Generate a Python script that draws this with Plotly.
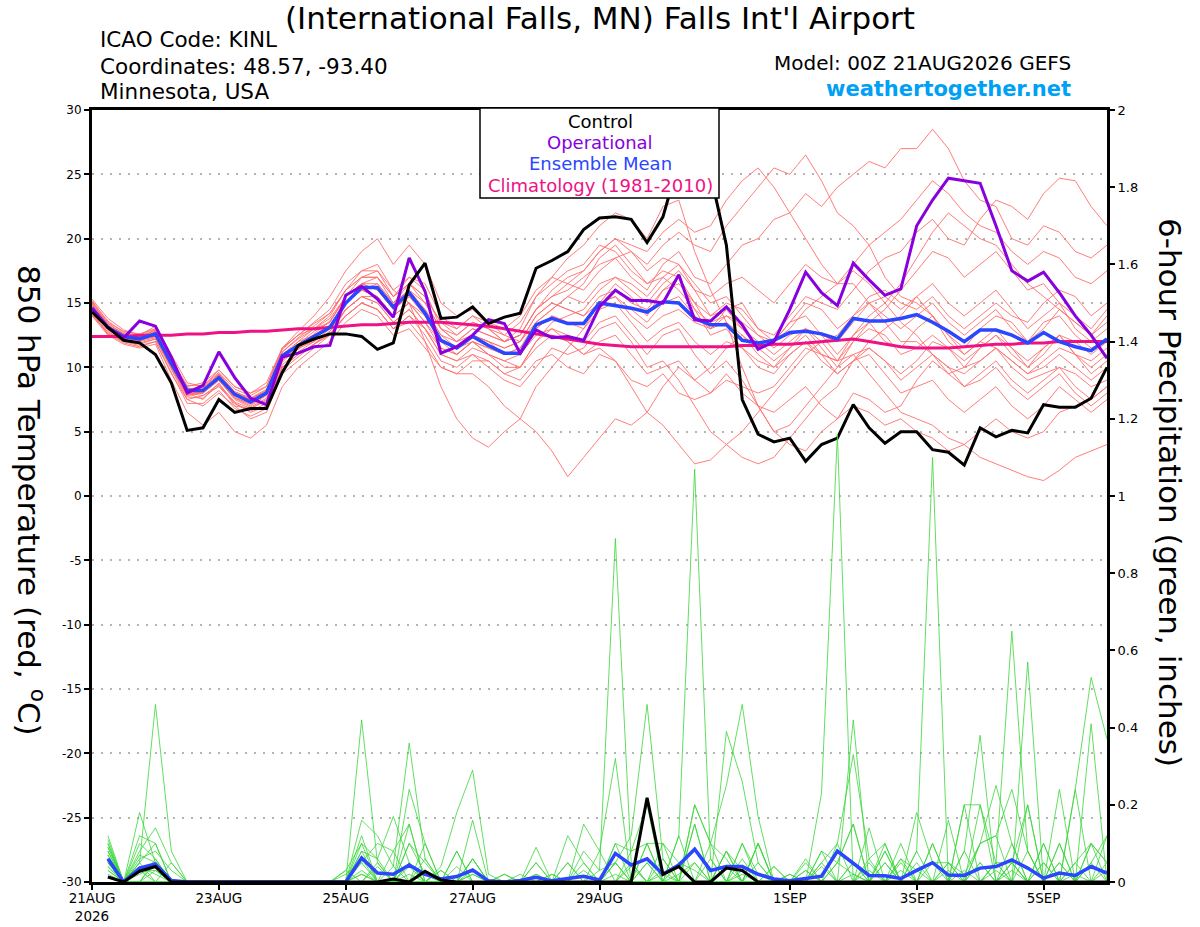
import plotly.graph_objects as go

# forecast hours, 6-hourly from 00Z 21AUG2026
fhours = list(range(0, 385, 6))
precip_hours = fhours[1:]

tick_hours = [0, 48, 96, 144, 192, 264, 312, 360]
tick_labels = ['21AUG<br>2026', '23AUG', '25AUG', '27AUG', '29AUG', '1SEP', '3SEP', '5SEP']
temp_ticks = [30, 25, 20, 15, 10, 5, 0, -5, -10, -15, -20, -25, -30]
temp_tick_labels = ['30', '25', '20', '15', '10', '5', '0', '-5', '-10', '-15', '-20', '-25', '-30']

# 850 hPa temperature (C)
control_t = [14.3, 13.1, 12.1, 11.9, 11.0, 8.8, 5.1, 5.3, 7.5, 6.5, 6.8, 6.8, 9.6, 11.7, 12.2, 12.6,
             12.6, 12.4, 11.4, 11.9, 16.4, 18.1, 13.8, 13.9, 14.7, 13.4, 13.9, 14.2, 17.7, 18.3, 19.0, 20.7,
             21.6, 21.7, 21.5, 19.7, 21.7, 26.0, 27.5, 25.0, 19.5, 7.5, 4.8, 4.2, 4.5, 2.7, 4.0, 4.5,
             7.1, 5.3, 4.1, 5.0, 5.0, 3.6, 3.4, 2.4, 5.3, 4.6, 5.1, 4.9, 7.1, 6.9, 6.9, 7.6, 10.0]
oper_t = [14.6, 13.1, 12.3, 13.6, 13.2, 10.8, 8.0, 8.6, 11.2, 9.2, 7.6, 7.1, 10.8, 11.1, 11.6, 11.7,
          15.6, 16.3, 15.3, 13.9, 18.5, 15.9, 11.1, 11.6, 12.5, 13.7, 13.4, 11.1, 12.9, 12.3, 12.4, 12.1,
          14.7, 16.0, 15.2, 15.2, 15.0, 17.2, 13.7, 13.6, 14.7, 13.3, 11.4, 12.0, 14.5, 17.4, 15.8, 14.8,
          18.1, 16.8, 15.6, 16.1, 21.0, 23.0, 24.7, 24.5, 24.3, 21.0, 17.5, 16.7, 17.4, 15.8, 14.0, 12.5, 10.7]
mean_t = [14.6, 13.1, 12.4, 12.2, 12.6, 10.3, 8.2, 8.2, 9.2, 7.9, 7.3, 8.0, 10.9, 11.7, 12.4, 13.1,
          15.0, 16.2, 16.2, 14.7, 15.8, 14.2, 12.1, 11.5, 12.4, 11.7, 11.1, 11.1, 13.3, 13.8, 13.4, 13.4,
          15.0, 14.8, 14.6, 14.3, 15.1, 15.0, 13.8, 13.3, 13.3, 12.1, 11.9, 12.1, 12.7, 12.8, 12.6, 12.2,
          13.8, 13.6, 13.6, 13.8, 14.1, 13.5, 12.8, 12.0, 12.9, 12.9, 12.5, 11.9, 12.7, 12.0, 11.6, 11.3, 12.2]
clim_t = [12.4, 12.4, 12.4, 12.5, 12.5, 12.5, 12.6, 12.6, 12.7, 12.7, 12.8, 12.8, 12.9, 13.0, 13.0, 13.1,
          13.2, 13.3, 13.3, 13.4, 13.5, 13.5, 13.5, 13.4, 13.3, 13.2, 13.0, 12.8, 12.6, 12.4, 12.2, 12.0,
          11.8, 11.7, 11.6, 11.6, 11.6, 11.6, 11.6, 11.6, 11.6, 11.7, 11.7, 11.8, 11.8, 11.9, 12.0, 12.1,
          12.2, 12.0, 11.8, 11.6, 11.5, 11.5, 11.5, 11.6, 11.7, 11.8, 11.8, 11.9, 11.9, 12.0, 12.0, 12.0, 12.0]

member_t = [
    [15.2, 13.5, 12.8, 12.6, 13.0, 10.8, 8.0, 7.5, 8.8, 7.0, 6.8, 7.5, 10.5, 12.0, 13.0, 14.0,
     16.0, 17.0, 17.5, 15.5, 17.0, 16.0, 13.0, 12.0, 13.0, 12.5, 12.0, 12.5, 14.5, 15.5, 16.0, 17.0,
     18.0, 18.5, 17.0, 16.0, 18.0, 19.0, 17.0, 16.5, 18.0, 19.5, 20.0, 21.5, 22.0, 23.5, 22.5, 24.0,
     25.0, 26.0, 25.5, 27.0, 27.0, 28.5, 27.0, 24.5, 23.0, 22.5, 20.0, 19.5, 21.0, 20.5, 19.0, 18.5, 19.5],
    [14.0, 12.8, 12.0, 11.8, 12.2, 9.8, 7.5, 7.8, 8.5, 7.2, 6.5, 7.0, 10.0, 11.0, 11.8, 12.5,
     14.5, 15.5, 15.0, 13.5, 14.5, 13.0, 11.0, 10.5, 11.0, 10.5, 9.5, 9.0, 10.5, 11.0, 10.0, 9.5,
     11.0, 10.5, 9.0, 8.5, 9.5, 8.0, 7.5, 8.0, 9.5, 8.0, 7.0, 6.5, 7.5, 8.5, 7.0, 6.0,
     7.0, 6.5, 5.5, 6.0, 5.0, 4.5, 3.5, 4.0, 3.0, 2.5, 2.0, 1.5, 1.2, 2.0, 3.0, 3.5, 4.0],
    [15.0, 13.3, 12.5, 12.0, 12.8, 10.5, 8.5, 8.8, 9.8, 8.5, 8.0, 8.8, 11.5, 12.5, 13.5, 14.5,
     16.5, 17.5, 18.0, 16.0, 15.0, 12.0, 8.5, 6.0, 4.5, 3.8, 5.0, 6.0, 8.5, 10.0, 11.5, 13.0,
     15.0, 16.5, 15.5, 14.0, 16.0, 17.0, 15.0, 13.0, 14.5, 15.0, 13.0, 12.0, 13.5, 14.0, 12.5, 11.0,
     12.5, 13.5, 12.0, 11.5, 13.0, 14.0, 12.5, 11.0, 12.0, 13.0, 11.5, 10.0, 11.0, 12.5, 11.0, 10.5, 11.5],
    [14.8, 13.0, 12.2, 12.4, 12.9, 10.0, 7.8, 8.0, 9.5, 8.0, 7.5, 8.2, 11.0, 11.5, 12.0, 13.0,
     15.5, 17.0, 17.0, 15.0, 16.5, 15.0, 13.0, 12.5, 13.5, 13.0, 12.0, 13.0, 15.5, 17.0, 18.5, 19.5,
     21.0, 22.0, 21.5, 20.0, 22.5, 23.0, 19.0, 16.0, 13.5, 10.0, 7.0, 5.0, 4.0, 3.5, 5.0, 6.0,
     8.0, 7.5, 6.5, 7.0, 9.0, 10.5, 9.5, 10.0, 11.5, 12.5, 11.0, 10.0, 11.5, 12.5, 11.0, 9.5, 10.5],
    [14.2, 12.6, 12.0, 11.7, 12.0, 9.5, 7.5, 7.0, 8.0, 7.0, 6.0, 6.5, 9.5, 10.5, 11.5, 12.5,
     14.0, 15.0, 14.5, 13.0, 13.5, 12.0, 10.0, 9.5, 9.5, 8.5, 7.0, 6.0, 5.0, 3.5, 1.5, 3.0,
     4.5, 6.0, 5.5, 6.5, 8.5, 10.0, 9.0, 10.0, 11.5, 12.5, 11.5, 12.0, 13.5, 15.0, 14.5, 13.0,
     14.0, 15.5, 16.0, 15.0, 14.5, 15.5, 14.0, 13.0, 14.0, 15.0, 14.0, 13.5, 15.0, 16.0, 15.5, 14.0, 15.0],
    [15.3, 13.8, 12.9, 12.5, 13.2, 11.0, 8.8, 8.5, 9.8, 8.5, 8.0, 8.5, 11.5, 12.5, 13.0, 13.5,
     15.5, 16.5, 17.0, 15.5, 16.5, 15.5, 13.5, 13.0, 14.0, 13.5, 13.0, 14.0, 16.0, 17.0, 16.5, 16.0,
     17.5, 18.5, 19.0, 18.0, 19.5, 20.5, 19.5, 19.0, 21.0, 22.5, 24.0, 25.5, 25.0, 26.5, 24.5, 22.0,
     21.0, 19.5, 17.0, 15.5, 15.0, 14.0, 12.0, 11.0, 12.0, 11.5, 10.0, 9.0, 9.5, 10.0, 8.5, 7.5, 8.5],
    [14.5, 12.9, 12.3, 12.1, 12.4, 10.2, 8.0, 8.3, 9.0, 7.6, 7.0, 7.8, 10.8, 11.8, 12.8, 13.5,
     15.5, 16.5, 16.0, 14.5, 15.5, 14.0, 12.0, 11.0, 12.0, 11.0, 10.0, 10.0, 12.0, 13.0, 12.5, 12.0,
     13.5, 14.0, 12.5, 11.0, 12.5, 13.0, 11.0, 9.5, 10.5, 9.0, 7.0, 5.0, 5.5, 7.0, 8.5, 10.0,
     12.0, 13.5, 14.5, 16.0, 17.5, 19.0, 18.5, 17.0, 18.0, 19.0, 17.5, 16.0, 16.5, 15.0, 13.0, 12.0, 13.0],
    [14.0, 12.5, 11.8, 11.5, 11.8, 9.0, 6.5, 5.5, 6.5, 5.0, 4.5, 5.5, 8.5, 10.0, 11.0, 12.0,
     13.5, 14.5, 14.0, 12.5, 13.0, 11.5, 10.0, 9.5, 10.5, 10.5, 9.5, 10.0, 12.0, 13.5, 14.0, 14.5,
     16.0, 17.0, 16.5, 15.5, 17.0, 18.0, 16.5, 15.0, 15.5, 14.0, 12.5, 11.5, 12.5, 13.0, 11.5, 10.0,
     11.0, 11.5, 10.5, 9.0, 10.0, 11.0, 10.0, 8.5, 9.0, 10.0, 8.5, 7.5, 8.5, 9.5, 8.0, 7.0, 8.0],
    [15.0, 13.4, 12.6, 12.3, 12.9, 10.6, 8.6, 8.6, 9.6, 8.3, 7.8, 8.5, 11.5, 12.8, 14.0, 15.5,
     17.5, 19.0, 20.0, 18.0, 19.5, 18.0, 15.0, 14.0, 14.5, 13.5, 12.5, 12.0, 13.5, 14.5, 15.5, 16.5,
     18.5, 19.5, 18.0, 16.5, 17.5, 17.0, 14.5, 12.5, 13.0, 11.5, 10.0, 9.5, 11.0, 12.0, 11.0, 10.5,
     12.5, 14.0, 15.0, 16.5, 18.5, 20.5, 22.0, 21.0, 20.0, 19.5, 18.0, 16.5, 15.5, 14.5, 13.5, 12.5, 13.5],
    [14.4, 12.9, 12.2, 12.0, 12.3, 10.0, 8.0, 7.8, 8.7, 7.3, 6.8, 7.4, 10.2, 11.2, 12.0, 12.8,
     14.0, 15.0, 14.5, 13.0, 14.0, 12.5, 10.5, 10.0, 11.0, 10.0, 9.0, 8.5, 10.0, 11.5, 11.0, 11.5,
     13.0, 13.5, 12.0, 10.0, 10.5, 9.0, 7.0, 5.0, 4.0, 3.0, 2.5, 3.0, 4.5, 6.0, 7.5, 8.5,
     10.5, 12.0, 13.0, 14.0, 15.5, 14.0, 12.5, 11.5, 13.0, 14.0, 13.5, 12.0, 13.0, 14.5, 13.5, 12.5, 14.0],
    [14.9, 13.2, 12.6, 12.3, 12.7, 10.4, 8.3, 8.4, 9.4, 8.0, 7.5, 8.1, 11.0, 12.0, 12.5, 13.0,
     15.0, 16.0, 16.5, 15.0, 16.0, 15.0, 13.0, 12.0, 12.5, 12.0, 11.5, 12.0, 14.0, 15.0, 14.5, 14.0,
     15.5, 16.0, 15.0, 14.5, 16.0, 16.5, 15.0, 14.0, 15.0, 14.5, 13.0, 12.5, 14.0, 15.5, 15.0, 14.5,
     16.0, 17.5, 18.5, 19.0, 20.5, 21.5, 20.0, 19.5, 21.5, 23.0, 22.5, 21.5, 23.5, 24.7, 24.5, 22.5, 21.0],
    [14.6, 13.0, 12.4, 12.2, 12.5, 10.1, 7.9, 8.1, 9.1, 7.7, 7.1, 7.9, 10.6, 11.4, 12.2, 13.2,
     15.0, 16.0, 15.5, 14.0, 15.0, 13.5, 11.5, 11.0, 12.0, 11.5, 11.0, 11.5, 13.5, 14.5, 15.5, 15.0,
     16.5, 17.0, 16.0, 15.0, 16.5, 17.5, 16.0, 15.5, 16.5, 17.0, 16.0, 15.0, 16.5, 18.0, 17.0, 16.5,
     17.5, 16.5, 15.0, 13.5, 12.5, 11.0, 9.5, 8.5, 9.5, 10.5, 9.0, 8.0, 9.0, 10.0, 9.5, 8.5, 9.0],
    [15.1, 13.6, 12.7, 12.5, 13.0, 10.7, 8.4, 8.2, 9.3, 7.8, 7.3, 8.0, 11.2, 12.3, 13.2, 14.2,
     16.0, 17.5, 17.5, 16.0, 17.0, 16.5, 14.0, 13.0, 14.0, 13.0, 12.0, 12.5, 14.5, 16.0, 17.0, 17.5,
     19.0, 20.0, 19.0, 17.5, 18.5, 18.0, 16.0, 14.0, 14.5, 13.0, 11.5, 10.5, 11.5, 12.5, 11.0, 9.5,
     10.5, 11.0, 9.5, 8.0, 8.5, 9.0, 7.5, 6.5, 7.5, 8.5, 7.0, 6.0, 7.0, 8.5, 7.5, 6.5, 7.5],
    [14.3, 12.7, 12.1, 11.9, 12.2, 9.9, 7.7, 7.6, 8.6, 7.2, 6.6, 7.2, 10.0, 11.0, 11.8, 12.6,
     14.0, 15.0, 14.5, 13.0, 14.0, 13.0, 11.5, 11.0, 12.0, 11.5, 11.0, 11.5, 13.0, 14.0, 13.5, 13.0,
     14.5, 15.0, 13.5, 12.0, 13.0, 13.5, 12.0, 11.0, 12.0, 11.5, 10.5, 10.0, 11.5, 13.0, 12.5, 12.0,
     13.5, 15.0, 15.5, 14.5, 15.5, 16.5, 15.0, 14.0, 15.0, 16.0, 14.5, 13.0, 14.0, 15.0, 14.0, 13.0, 14.5],
    [14.7, 13.1, 12.3, 12.2, 12.6, 10.3, 8.1, 8.0, 9.0, 7.5, 6.9, 7.6, 10.4, 11.6, 12.6, 13.6,
     15.5, 16.5, 16.0, 14.5, 15.5, 14.5, 12.5, 12.0, 13.0, 12.5, 12.0, 12.5, 14.5, 15.5, 16.5, 17.5,
     19.0, 20.0, 19.5, 19.0, 20.5, 21.5, 20.5, 21.0, 23.0, 24.5, 25.5, 24.0, 22.0, 20.0, 18.0, 16.5,
     16.5, 15.0, 13.5, 12.0, 12.0, 11.0, 10.0, 9.5, 10.5, 11.5, 10.5, 9.5, 10.0, 11.0, 10.0, 9.0, 10.0],
    [14.5, 13.0, 12.3, 12.1, 12.5, 10.2, 8.1, 8.3, 9.3, 7.9, 7.4, 8.0, 10.8, 11.7, 12.5, 13.3,
     15.0, 16.0, 15.5, 14.0, 15.0, 14.0, 12.0, 11.5, 12.5, 12.0, 11.0, 11.0, 12.5, 13.0, 12.0, 11.0,
     12.0, 12.5, 11.0, 9.5, 10.0, 10.5, 9.0, 8.0, 9.0, 8.5, 8.0, 8.5, 10.0, 11.5, 11.0, 10.5,
     12.0, 13.0, 12.5, 11.0, 11.5, 12.5, 11.5, 10.0, 10.5, 11.5, 10.5, 9.5, 10.5, 11.5, 11.0, 10.0, 11.0],
    [14.8, 13.2, 12.5, 12.3, 12.7, 10.4, 8.3, 8.5, 9.5, 8.1, 7.6, 8.2, 11.2, 12.2, 13.0, 13.8,
     15.5, 16.5, 16.5, 15.0, 16.0, 14.5, 12.5, 11.5, 12.0, 11.0, 10.5, 10.0, 11.5, 12.5, 12.0, 11.0,
     11.5, 10.5, 8.5, 6.5, 5.5, 4.0, 2.5, 2.8, 4.0, 5.0, 6.5, 8.0, 9.5, 11.0, 12.0, 12.5,
     14.0, 15.0, 14.0, 13.0, 14.0, 15.0, 13.5, 12.5, 13.5, 14.5, 13.0, 12.0, 13.5, 14.0, 12.5, 11.5, 12.0],
    [14.1, 12.6, 11.9, 11.6, 12.0, 9.6, 7.2, 7.2, 8.2, 6.8, 6.2, 6.8, 9.8, 10.8, 11.8, 12.8,
     14.5, 15.5, 15.5, 14.0, 15.0, 13.5, 12.0, 11.5, 12.5, 12.0, 11.5, 12.0, 14.0, 15.0, 14.5, 14.0,
     15.0, 15.5, 14.0, 13.0, 14.0, 14.5, 13.5, 13.0, 14.0, 13.0, 12.0, 11.0, 12.0, 13.0, 12.0, 10.5,
     11.0, 9.5, 8.0, 6.5, 6.0, 5.5, 4.5, 4.0, 5.0, 6.0, 5.0, 4.5, 5.0, 6.5, 7.0, 7.5, 8.5],
    [15.0, 13.4, 12.6, 12.4, 12.8, 10.5, 8.2, 8.4, 9.4, 8.1, 7.6, 8.3, 11.4, 12.5, 13.4, 14.2,
     16.0, 17.0, 17.0, 15.5, 16.5, 15.5, 13.5, 12.5, 13.5, 13.0, 12.5, 13.5, 15.5, 16.5, 17.5, 18.0,
     19.5, 19.0, 17.5, 16.5, 17.0, 16.0, 14.5, 13.5, 14.0, 13.5, 12.5, 12.0, 13.0, 14.5, 15.5, 16.5,
     18.0, 19.5, 20.5, 21.5, 23.0, 24.5, 23.5, 22.0, 21.0, 20.5, 19.0, 18.0, 19.0, 18.5, 17.0, 16.5, 17.5],
    [14.6, 13.0, 12.3, 12.1, 12.4, 10.1, 7.9, 8.0, 9.0, 7.6, 7.2, 7.9, 10.7, 11.5, 12.3, 13.0,
     14.5, 15.5, 15.0, 13.5, 14.5, 13.0, 11.0, 10.5, 11.5, 11.0, 10.5, 11.0, 13.0, 14.0, 13.5, 13.5,
     15.0, 15.5, 14.5, 13.5, 15.0, 15.5, 14.0, 13.0, 13.5, 12.5, 11.0, 10.0, 11.0, 12.0, 10.5, 9.5,
     10.5, 11.5, 10.5, 9.5, 10.5, 12.0, 11.5, 10.5, 11.5, 12.5, 11.5, 10.5, 11.5, 12.5, 12.0, 11.0, 12.0],
]

# 6-hour precipitation (inches), valid at fhours[1:]
control_p = [0.013, 0, 0.028, 0.04, 0, 0, 0, 0,
             0, 0, 0, 0, 0, 0, 0, 0,
             0, 0, 0.008, 0, 0.028, 0.005, 0, 0,
             0, 0, 0, 0, 0, 0, 0, 0,
             0, 0, 0.218, 0.02, 0.04, 0, 0, 0.036,
             0.03, 0, 0, 0, 0, 0, 0, 0,
             0, 0, 0, 0, 0, 0, 0, 0,
             0, 0, 0, 0, 0, 0, 0, 0]
mean_p = [0.06, 0, 0.036, 0.047, 0.004, 0, 0, 0,
          0, 0, 0, 0, 0, 0, 0, 0,
          0.062, 0.023, 0.02, 0.044, 0.02, 0.008, 0.014, 0.031,
          0.003, 0, 0.004, 0.012, 0.003, 0.008, 0.015, 0.005,
          0.074, 0.044, 0.06, 0.02, 0.044, 0.085, 0.03, 0.04,
          0.04, 0.02, 0.008, 0.003, 0.008, 0.015, 0.08, 0.048,
          0.017, 0.016, 0.009, 0.03, 0.05, 0.018, 0.017, 0.036,
          0.04, 0.057, 0.036, 0.01, 0.023, 0.017, 0.04, 0.023]

member_p = [
    [0.10, 0, 0.05, 0.46, 0.08, 0, 0, 0, 0, 0, 0, 0, 0, 0, 0, 0,
     0.42, 0.05, 0, 0.10, 0.02, 0, 0, 0.06, 0, 0, 0, 0.02, 0, 0, 0, 0,
     0.05, 0, 0.10, 0, 0, 0.15, 0, 0.08, 0.03, 0, 0, 0, 0, 0.05, 0.10, 0.33,
     0.06, 0, 0, 0, 0, 0.05, 0.02, 0.10, 0.12, 0.24, 0.08, 0, 0, 0.05, 0.10, 0.05],
    [0.06, 0, 0.18, 0.05, 0, 0, 0, 0, 0, 0, 0, 0, 0, 0, 0, 0,
     0.16, 0.12, 0.04, 0.36, 0.06, 0, 0, 0.02, 0, 0, 0, 0.05, 0, 0, 0.08, 0.03,
     0.89, 0.05, 0, 0, 0.02, 0.05, 0, 0, 0.10, 0.02, 0, 0, 0, 0.08, 0.05, 0.02,
     0, 0.05, 0, 0, 0.10, 0, 0, 0.20, 0.05, 0, 0.20, 0, 0.10, 0, 0.05, 0.12],
    [0.12, 0, 0.08, 0.14, 0.05, 0, 0, 0, 0, 0, 0, 0, 0, 0, 0, 0.03,
     0.10, 0.06, 0.17, 0.05, 0, 0.04, 0.18, 0.29, 0.02, 0, 0, 0, 0, 0.12, 0.05, 0,
     0.05, 0.12, 0.46, 0.06, 0, 0, 0, 0.39, 0.26, 0.05, 0, 0, 0.03, 0, 0.05, 0.15,
     0, 0, 0, 0.18, 0.05, 0, 0, 0, 0.05, 0.65, 0.08, 0, 0.24, 0, 0, 0],
    [0.08, 0, 0.12, 0.10, 0, 0, 0, 0, 0, 0, 0, 0, 0, 0, 0, 0,
     0.08, 0, 0, 0.24, 0.10, 0, 0, 0.16, 0, 0, 0.02, 0, 0.02, 0, 0.15, 0.08,
     0.32, 0, 0.05, 0, 0.12, 1.07, 0.06, 0, 0, 0, 0.04, 0, 0, 0, 0, 0,
     0.14, 0, 0.06, 0, 0, 0, 0.08, 0.38, 0, 0, 0.57, 0, 0, 0, 0, 0.05],
    [0.05, 0, 0.03, 0.03, 0, 0, 0, 0, 0, 0, 0, 0, 0, 0, 0, 0,
     0.05, 0.10, 0.08, 0.15, 0, 0, 0.08, 0, 0, 0.02, 0, 0.09, 0, 0.05, 0, 0,
     0.10, 0.08, 0.20, 0, 0, 0.20, 0.10, 0.25, 0.46, 0.17, 0, 0.02, 0, 0.23, 1.16, 0,
     0, 0.10, 0, 0, 0, 0.16, 0, 0.10, 0.25, 0.10, 0, 0, 0, 0, 0.41, 0],
    [0.10, 0, 0.06, 0.08, 0.03, 0, 0, 0, 0, 0, 0, 0, 0, 0, 0, 0,
     0.12, 0, 0, 0.10, 0.05, 0, 0, 0, 0, 0, 0, 0, 0, 0, 0, 0,
     0, 0, 0.10, 0.10, 0.05, 0, 0, 0.08, 0, 0.10, 0, 0, 0, 0, 0, 0.42,
     0, 0.08, 0, 0.08, 1.10, 0, 0.20, 0, 0, 0.05, 0, 0.10, 0, 0.24, 0.53, 0.37],
    [0.07, 0, 0.10, 0.06, 0, 0, 0, 0, 0, 0, 0, 0, 0, 0, 0, 0.02,
     0.05, 0, 0, 0.05, 0, 0.03, 0, 0, 0, 0, 0, 0, 0, 0, 0, 0,
     0, 0, 0, 0, 0, 0.15, 0, 0, 0, 0, 0, 0, 0.06, 0, 0, 0,
     0, 0, 0.05, 0, 0, 0, 0, 0, 0, 0, 0, 0.05, 0, 0, 0, 0],
    [0.02, 0, 0, 0.03, 0, 0, 0, 0, 0, 0, 0, 0, 0, 0, 0, 0,
     0, 0, 0, 0, 0, 0, 0, 0, 0, 0, 0, 0, 0, 0, 0, 0,
     0, 0, 0, 0, 0, 0, 0, 0, 0, 0, 0, 0, 0, 0, 0, 0,
     0, 0, 0, 0, 0, 0, 0, 0.10, 0.12, 0, 0, 0, 0, 0, 0, 0],
    [0.04, 0, 0.05, 0.10, 0, 0, 0, 0, 0, 0, 0, 0, 0, 0, 0, 0,
     0, 0.04, 0, 0.02, 0, 0, 0, 0, 0, 0, 0, 0, 0, 0, 0, 0.03,
     0.05, 0, 0, 0.02, 0, 0, 0, 0, 0.10, 0, 0, 0, 0, 0, 0, 0.05,
     0, 0, 0.10, 0, 0, 0.05, 0, 0, 0, 0.05, 0, 0, 0.05, 0, 0, 0],
    [0.09, 0, 0.02, 0.04, 0, 0, 0, 0, 0, 0, 0, 0, 0, 0, 0, 0,
     0.02, 0, 0, 0, 0, 0, 0, 0.06, 0, 0, 0, 0, 0, 0, 0, 0,
     0, 0, 0, 0, 0, 0, 0.10, 0, 0, 0.10, 0, 0, 0, 0, 0, 0,
     0, 0, 0, 0, 0, 0, 0, 0, 0, 0, 0, 0, 0, 0, 0, 0],
    [0.11, 0, 0.04, 0.02, 0, 0, 0, 0, 0, 0, 0, 0, 0, 0, 0, 0,
     0.03, 0, 0, 0.05, 0, 0, 0.04, 0, 0, 0, 0, 0, 0, 0, 0, 0,
     0.10, 0, 0, 0, 0.05, 0.03, 0, 0, 0.06, 0, 0, 0, 0, 0.05, 0, 0.02,
     0, 0, 0, 0, 0, 0, 0.08, 0, 0, 0.05, 0.20, 0, 0.10, 0, 0, 0],
    [0.05, 0, 0, 0, 0, 0, 0, 0, 0, 0, 0, 0, 0, 0, 0, 0,
     0, 0, 0, 0, 0, 0, 0, 0, 0, 0, 0, 0, 0, 0, 0, 0,
     0, 0, 0, 0, 0, 0, 0, 0, 0, 0, 0, 0, 0, 0, 0, 0,
     0.06, 0.10, 0, 0.08, 0, 0, 0, 0.05, 0, 0, 0, 0.10, 0, 0.05, 0, 0],
    [0.03, 0, 0, 0, 0, 0, 0, 0, 0, 0, 0, 0, 0, 0, 0, 0,
     0, 0, 0, 0, 0.10, 0, 0, 0.02, 0, 0, 0, 0, 0, 0.05, 0, 0,
     0, 0.05, 0, 0.06, 0, 0, 0.06, 0, 0, 0.10, 0, 0, 0.03, 0, 0, 0,
     0, 0.05, 0, 0, 0.05, 0.05, 0, 0, 0.05, 0, 0, 0, 0, 0, 0.10, 0],
    [0.08, 0, 0.03, 0, 0, 0, 0, 0, 0, 0, 0, 0, 0, 0, 0, 0,
     0.08, 0.06, 0, 0, 0.06, 0, 0, 0, 0, 0, 0, 0, 0, 0, 0, 0.08,
     0, 0, 0, 0.10, 0, 0, 0, 0.08, 0, 0, 0, 0, 0, 0, 0.05, 0.15,
     0, 0, 0.06, 0.03, 0, 0, 0, 0, 0, 0.10, 0, 0, 0, 0, 0, 0.12],
    [0.05, 0, 0, 0.05, 0, 0, 0, 0, 0, 0, 0, 0, 0, 0, 0, 0,
     0, 0, 0.08, 0, 0, 0.03, 0, 0, 0, 0, 0, 0.05, 0, 0, 0.03, 0,
     0, 0.08, 0.10, 0, 0.12, 0, 0, 0, 0, 0, 0.04, 0, 0, 0.08, 0, 0,
     0.05, 0, 0, 0, 0, 0, 0.20, 0.20, 0, 0, 0.08, 0, 0, 0.24, 0, 0],
    [0.06, 0, 0.05, 0, 0, 0, 0, 0, 0, 0, 0, 0, 0, 0, 0, 0,
     0.10, 0, 0, 0.15, 0, 0, 0, 0.06, 0, 0, 0, 0, 0, 0, 0, 0,
     0.05, 0, 0, 0, 0, 0.20, 0.10, 0.06, 0, 0, 0, 0, 0, 0, 0.10, 0,
     0, 0.08, 0, 0, 0.10, 0, 0, 0, 0.05, 0.05, 0, 0, 0, 0, 0.10, 0.05],
    [0.04, 0, 0, 0, 0.05, 0, 0, 0, 0, 0, 0, 0, 0, 0, 0, 0,
     0, 0.05, 0, 0, 0, 0, 0.08, 0, 0, 0, 0, 0, 0.02, 0, 0.05, 0,
     0, 0, 0, 0.03, 0, 0, 0, 0, 0.03, 0, 0, 0.02, 0, 0, 0, 0,
     0, 0, 0, 0.05, 0, 0.03, 0, 0, 0, 0, 0, 0.05, 0, 0, 0, 0],
    [0.09, 0, 0.07, 0.05, 0, 0, 0, 0, 0, 0, 0, 0, 0, 0, 0, 0,
     0.06, 0, 0, 0.04, 0, 0, 0, 0, 0, 0.02, 0, 0, 0, 0, 0, 0,
     0.02, 0, 0.05, 0, 0, 0, 0, 0, 0, 0.05, 0, 0, 0, 0, 0, 0.05,
     0, 0, 0.03, 0, 0, 0, 0, 0.05, 0, 0, 0, 0, 0.05, 0, 0.05, 0],
    [0.03, 0, 0, 0, 0, 0, 0, 0, 0, 0, 0, 0, 0, 0, 0, 0,
     0.02, 0, 0, 0, 0.02, 0, 0, 0, 0, 0, 0, 0, 0, 0, 0, 0,
     0, 0.04, 0, 0, 0, 0, 0, 0.04, 0, 0, 0, 0, 0.05, 0, 0, 0,
     0.03, 0, 0, 0, 0, 0, 0, 0, 0.03, 0, 0, 0, 0, 0.02, 0, 0],
    [0.07, 0, 0, 0.06, 0, 0, 0, 0, 0, 0, 0, 0, 0, 0, 0, 0.03,
     0, 0, 0.04, 0, 0, 0, 0, 0.03, 0, 0, 0, 0.02, 0, 0, 0, 0,
     0, 0, 0, 0, 0, 0.05, 0, 0, 0.02, 0, 0, 0, 0, 0.04, 0, 0,
     0, 0, 0, 0, 0, 0, 0.03, 0, 0, 0.03, 0, 0, 0, 0, 0, 0.03],
]

legend_labels = ['Control', 'Operational', 'Ensemble Mean', 'Climatology (1981-2010)']

assert all(len(s) == 65 for s in member_t + [control_t, oper_t, mean_t, clim_t])
assert all(len(s) == 64 for s in member_p + [control_p, mean_p])

RED = '#ff6e6e'
GREEN = '#3ad63a'
BLACK = '#000000'
PURPLE = '#8800dd'
BLUE = '#2a46ff'
PINK = '#ee1284'
FONT = 'DejaVu Sans, Liberation Sans, sans-serif'

# plot area in pixels (for placing header text)
L, R, T, B = 92, 1107, 110, 882


def px(x):
    return (x - L) / (R - L)


def py(y):
    return (B - y) / (B - T)


fig = go.Figure()

for m in member_t:
    fig.add_trace(go.Scatter(x=fhours, y=m, mode='lines',
                             line=dict(color=RED, width=0.9), hoverinfo='skip'))
for m in member_p:
    fig.add_trace(go.Scatter(x=precip_hours, y=m, mode='lines', yaxis='y2',
                             line=dict(color=GREEN, width=0.8), hoverinfo='skip'))

fig.add_trace(go.Scatter(x=fhours, y=clim_t, mode='lines', line=dict(color=PINK, width=3)))
fig.add_trace(go.Scatter(x=precip_hours, y=mean_p, mode='lines', yaxis='y2', line=dict(color=BLUE, width=3.5)))
fig.add_trace(go.Scatter(x=precip_hours, y=control_p, mode='lines', yaxis='y2', line=dict(color=BLACK, width=3)))
fig.add_trace(go.Scatter(x=fhours, y=mean_t, mode='lines', line=dict(color=BLUE, width=3.5)))
fig.add_trace(go.Scatter(x=fhours, y=oper_t, mode='lines', line=dict(color=PURPLE, width=3)))
fig.add_trace(go.Scatter(x=fhours, y=control_t, mode='lines', line=dict(color=BLACK, width=3)))

annotations = [
    dict(text="(International Falls, MN) Falls Int'l Airport", x=px(600), y=py(18),
         xanchor='center', yanchor='middle', font=dict(size=31)),
    dict(text='ICAO Code: KINL', x=px(98), y=py(40), xanchor='left', yanchor='middle', font=dict(size=21.5)),
    dict(text='Coordinates: 48.57, -93.40', x=px(98), y=py(66), xanchor='left', yanchor='middle',
         font=dict(size=21.5)),
    dict(text='Minnesota, USA', x=px(98), y=py(92), xanchor='left', yanchor='middle', font=dict(size=21.5)),
    dict(text='Model: 00Z 21AUG2026 GEFS', x=px(1073), y=py(63), xanchor='right', yanchor='middle',
         font=dict(size=20)),
    dict(text='<b>weathertogether.net</b>', x=px(1073), y=py(89), xanchor='right', yanchor='middle',
         font=dict(size=21, color='#00a0f5')),
    dict(text='850 hPa Temperature (red, <sup>o</sup>C)', x=px(31), y=py(500), textangle=90,
         xanchor='center', yanchor='middle', font=dict(size=31)),
    dict(text='6-hour Precipitation (green, inches)', x=px(1170), y=py(492), textangle=90,
         xanchor='center', yanchor='middle', font=dict(size=31)),
]
# legend box: one line of text per series
for label, color, ypix in zip(legend_labels, [BLACK, PURPLE, BLUE, PINK], [121, 142, 163, 185]):
    annotations.append(dict(text=label, x=px(600), y=py(ypix), xanchor='center', yanchor='middle',
                            font=dict(size=18, color=color)))
for a in annotations:
    a.update(xref='paper', yref='paper', showarrow=False)

legend_box = dict(type='rect', xref='paper', yref='paper', x0=px(480), x1=px(719), y0=py(198), y1=py(108),
                  fillcolor='white', line=dict(color='black', width=1.5), layer='above')

fig.update_layout(
    width=1200, height=927,
    margin=dict(l=L, r=1200 - R, t=T, b=927 - B),
    paper_bgcolor='white', plot_bgcolor='white',
    showlegend=False,
    font=dict(family=FONT, color='black'),
    annotations=annotations,
    shapes=[legend_box],
    xaxis=dict(range=[0, 384], tickvals=tick_hours, ticktext=tick_labels,
               ticks='outside', ticklen=5, tickwidth=1.5, tickcolor='black', ticklabelstandoff=-3,
               tickfont=dict(size=13.5), showgrid=False, zeroline=False, automargin=False,
               showline=True, linewidth=3, linecolor='black', mirror=True),
    yaxis=dict(range=[-30, 30], tickvals=temp_ticks, ticktext=temp_tick_labels,
               ticks='outside', ticklen=5, tickwidth=1.5,
               tickcolor='black', tickfont=dict(size=12), automargin=False,
               showgrid=True, gridcolor='#b4b4b4', griddash='2px,7px', gridwidth=1.5,
               zeroline=False, showline=True, linewidth=3, linecolor='black', mirror=True),
    yaxis2=dict(range=[0, 2], dtick=0.2, overlaying='y', side='right', ticks='outside',
                ticklen=5, tickwidth=1.5, tickcolor='black', tickfont=dict(size=13), automargin=False,
                showgrid=False, zeroline=False, showline=True, linewidth=3, linecolor='black'),
)

fig.write_html('out.html', config={'displayModeBar': False},
               post_script="document.body.style.margin='0';")
